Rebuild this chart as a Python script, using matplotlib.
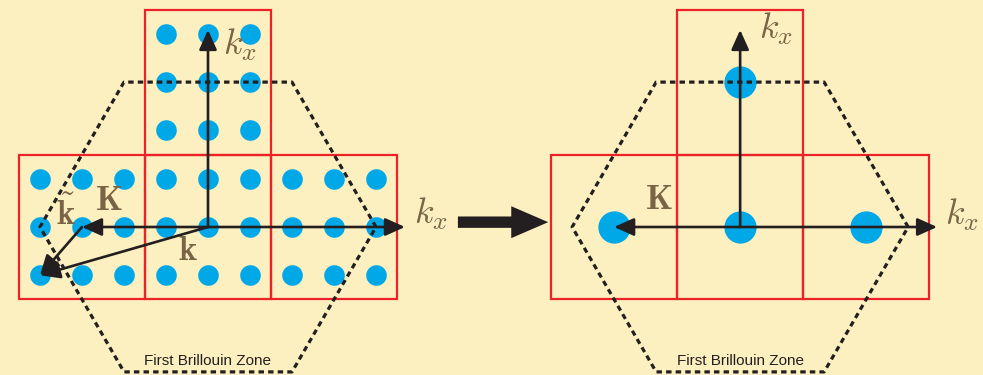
import numpy as np
import matplotlib.pyplot as plt
from matplotlib.patches import Rectangle, FancyArrowPatch

plt.rcParams['mathtext.fontset'] = 'cm'

# lattice units: dot spacing = 1, one cell = 3 x 3 dots
CELL = 3
cell_index = [(0, 0), (-1, 0), (1, 0), (0, 1)]
dot_offsets = [-1, 0, 1]

# first Brillouin zone (hexagon) vertices
bz_u = [4, 2, -2, -4, -2, 2, 4]
bz_v = [0, 3, 3, 0, -3, -3, 0]

K_vec = (-3, 0)
k_vec = (-4, -1)
axis_len_x = 4.69
axis_len_y = 4.08

RIGHT_SHIFT = 12.67  # origin of the folded picture

BG = '#fdf0c0'
RED = '#ed2228'
BLUE = '#00a8e8'
INK = '#231f20'
LABEL = '#7a6446'


def arrow(ax, p0, p1, lw=1.9):
    a = FancyArrowPatch(p0, p1, arrowstyle='-|>,head_length=1.0,head_width=0.45',
                        mutation_scale=12, lw=lw, color=INK, shrinkA=0, shrinkB=0,
                        zorder=5)
    ax.add_patch(a)


def draw_cells(ax, x0):
    for ci, cj in cell_index:
        cx, cy = x0 + ci * CELL, cj * CELL
        ax.add_patch(Rectangle((cx - CELL / 2, cy - CELL / 2), CELL, CELL,
                               fill=False, ec=RED, lw=1.6, zorder=2))


def draw_zone(ax, x0):
    ax.plot(np.array(bz_u) + x0, bz_v, color=INK, lw=2.3,
            linestyle=(0, (1.7, 1.3)), zorder=4)
    ax.text(x0, -2.77, 'First Brillouin Zone', ha='center', va='center',
            fontsize=11, color=INK, family='Liberation Sans')


fig = plt.figure(figsize=(9.83, 3.75), dpi=100, facecolor=BG)
ax = fig.add_axes([0, 0, 1, 1])
ax.set_facecolor(BG)
ax.set_xlim(-208 / 42, 775 / 42)
ax.set_ylim(-148 / 48.3, 227 / 48.3)
ax.axis('off')

# ---- left: full lattice of sample points ----
draw_cells(ax, 0)
pts = [(ci * CELL + du, cj * CELL + dv)
       for ci, cj in cell_index for du in dot_offsets for dv in dot_offsets]
pts = np.array(pts)
ax.scatter(pts[:, 0], pts[:, 1], s=220, color=BLUE, lw=0, zorder=3)
draw_zone(ax, 0)

arrow(ax, (0, 0), (0, axis_len_y))
arrow(ax, (0, 0), (axis_len_x, 0))
arrow(ax, (0, 0), K_vec)
arrow(ax, (0, 0), k_vec)
arrow(ax, K_vec, k_vec)

ax.text(0.76, 3.77, r'$k_x$', fontsize=26, color=LABEL, ha='center', va='center')
ax.text(5.31, 0.27, r'$k_x$', fontsize=26, color=LABEL, ha='center', va='center')
ax.text(-2.36, 0.55, r'$\mathbf{K}$', fontsize=25, color=LABEL, ha='center', va='center')
ax.text(-3.38, 0.27, r'$\tilde{\mathbf{k}}$', fontsize=25, color=LABEL, ha='center', va='center')
ax.text(-0.48, -0.48, r'$\mathbf{k}$', fontsize=25, color=LABEL, ha='center', va='center')

# ---- middle: big arrow ----
ax.add_patch(FancyArrowPatch((5.95, 0.1), (8.1, 0.1),
                             arrowstyle='simple,head_length=26.6,head_width=23,tail_width=8.2',
                             mutation_scale=1, color=INK, lw=0, shrinkA=0, shrinkB=0))

# ---- right: one point per cell ----
x0 = RIGHT_SHIFT
draw_cells(ax, x0)
cpts = np.array([(x0 + ci * CELL, cj * CELL) for ci, cj in cell_index])
ax.scatter(cpts[:, 0], cpts[:, 1], s=540, color=BLUE, lw=0, zorder=3)
draw_zone(ax, x0)

arrow(ax, (x0, 0), (x0, axis_len_y))
arrow(ax, (x0, 0), (x0 + axis_len_x, 0))
arrow(ax, (x0, 0), (x0 + K_vec[0], K_vec[1]))

ax.text(x0 + 0.86, 4.10, r'$k_x$', fontsize=26, color=LABEL, ha='center', va='center')
ax.text(x0 + 5.29, 0.25, r'$k_x$', fontsize=26, color=LABEL, ha='center', va='center')
ax.text(x0 - 1.93, 0.58, r'$\mathbf{K}$', fontsize=25, color=LABEL, ha='center', va='center')

fig.savefig('out.png', dpi=100, facecolor=BG)
